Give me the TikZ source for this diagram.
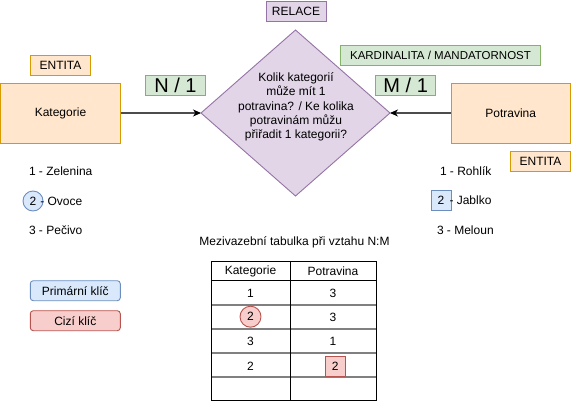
\documentclass[tikz,border=0pt]{standalone}
\usepackage{fontspec}
\setmainfont{Liberation Sans}
\usetikzlibrary{shapes.geometric,arrows.meta}
\definecolor{orF}{HTML}{FFE6CC}\definecolor{orD}{HTML}{D79B00}
\definecolor{puF}{HTML}{E1D5E7}\definecolor{puD}{HTML}{9673A6}
\definecolor{grF}{HTML}{D5E8D4}\definecolor{grD}{HTML}{82B366}
\definecolor{blF}{HTML}{DAE8FC}\definecolor{blD}{HTML}{6C8EBF}
\definecolor{reF}{HTML}{F8CECC}\definecolor{reD}{HTML}{B85450}
\definecolor{lineG}{HTML}{808080}
\tikzset{
  base/.style={inner sep=0pt, outer sep=0pt, line width=0.9pt, font=\fontsize{12}{14}\selectfont},
  entity/.style={base, draw=orD, fill=orF, minimum width=120pt, minimum height=60pt},
  tag/.style={base, draw=orD, fill=orF, minimum width=60pt, minimum height=20pt},
  reltag/.style={base, draw=puD, fill=puF, minimum width=60pt, minimum height=20pt},
  cardbig/.style={base, draw=grD, fill=grF, minimum width=60pt, minimum height=20pt, font=\fontsize{20}{22}\selectfont},
  cardwide/.style={base, draw=grD, fill=grF, minimum width=200pt, minimum height=20pt, font=\fontsize{11.5}{13}\selectfont},
  relbox/.style={base, diamond, draw=puD, fill=puF, minimum width=189pt, minimum height=166pt, aspect=1.1386},
  plain/.style={base},
  legblue/.style={base, draw=blD, fill=blF, rounded corners=3pt, minimum width=90pt, minimum height=20pt},
  legred/.style={base, draw=reD, fill=reF, rounded corners=3pt, minimum width=90pt, minimum height=20pt},
  pkcirc/.style={base, circle, draw=blD, fill=blF, minimum size=20pt},
  pksq/.style={base, draw=blD, fill=blF, minimum width=20pt, minimum height=20pt},
  fkcirc/.style={base, circle, draw=reD, fill=reF, minimum size=21pt},
  fksq/.style={base, draw=reD, fill=reF, minimum width=20pt, minimum height=20pt},
  conn/.style={line width=1.1pt, draw=black!70, -{Stealth[length=8pt,width=7pt,inset=2.5pt,color=black,fill=black]}},
  thinrule/.style={line width=0.9pt, draw=black},
  thickrule/.style={line width=1.6pt, draw=lineG},
}
\begin{document}
\begin{tikzpicture}[x=1pt,y=-1pt]
\useasboundingbox (0,0) rectangle (571,402);
% top labels
\node[reltag] (relace) at (296,11) {RELACE};
\node[cardwide] (kard) at (440.5,55.7) {KARDINALITA / MANDATORNOST};
\node[tag] (ent1) at (60.5,65) {ENTITA};
\node[tag] (ent2) at (540.5,161) {ENTITA};
\node[cardbig] (n1) at (175.5,85.3) {N / 1};
\node[cardbig] (m1) at (405.7,85.3) {M / 1};
% entities and relation
\node[entity] (kat) at (60.5,113) {Kategorie};
\node[entity, minimum width=119.5pt] (pot) at (510.75,113) {Potravina};
\node[relbox] (rel) at (295.5,113) {};
\node[plain, align=center, font=\fontsize{12}{14.3}\selectfont] (reltext) at (296,107)
  {Kolik kategorií\\může mít 1\\potravina? / Ke kolika\\potravinám můžu\\přiřadit 1 kategorii?};
\draw[conn] (kat.east) -- (rel.west);
\draw[conn] (pot.west) -- (rel.east);
% left list
\node[plain, anchor=west] (l1) at (29,171.5) {1 - Zelenina};
\node[pkcirc] (l2pk) at (33,201) {2};
\node[plain, anchor=west] (l2) at (40.3,201) {- Ovoce};
\node[plain, anchor=west] (l3) at (29,230.5) {3 - Pečivo};
% right list
\node[plain, anchor=west] (r1) at (440,171) {1 - Rohlík};
\node[pksq] (r2pk) at (441,200.5) {2};
\node[plain, anchor=west] (r2) at (449.5,200.5) {- Jablko};
\node[plain, anchor=west] (r3) at (437,230.5) {3 - Meloun};
% legend
\node[legblue] (lpk) at (75.3,290.7) {Primární klíč};
\node[legred] (lfk) at (75.3,320.7) {Cizí klíč};
% table
\node[plain] (ttitle) at (294.5,242.3) {Mezivazební tabulka při vztahu N:M};
\coordinate (tl) at (211,261);
\coordinate (br) at (376,400);
\coordinate (ct) at (290.3,261);
\coordinate (cb) at (290.3,400);
\foreach \yy/\nm in {305/a,329/b,353/c,376.7/d}{
  \draw[thickrule] (211,\yy) coordinate (rl\nm) -- (376,\yy) coordinate (rr\nm);
}
\draw[thinrule] (211,280.7) coordinate (hl) -- (376,280.7) coordinate (hr);
\draw[thinrule] (ct) -- (cb);
\draw[thinrule] (tl) rectangle (br);
\node[plain] (hk) at (250.5,271) {Kategorie};
\node[plain] (hp) at (333,271) {Potravina};
\node[plain] (k1) at (250.5,293) {1};
\node[plain] (p1) at (333,293) {3};
\node[fkcirc] (k2) at (250.5,316.7) {2};
\node[plain] (p2) at (333,317) {3};
\node[plain] (k3) at (250.5,341) {3};
\node[plain] (p3) at (333,341) {1};
\node[plain] (k4) at (250.5,366.5) {2};
\node[fksq, minimum width=20.7pt] (p4) at (335.3,366.7) {2};
\end{tikzpicture}
\end{document}
